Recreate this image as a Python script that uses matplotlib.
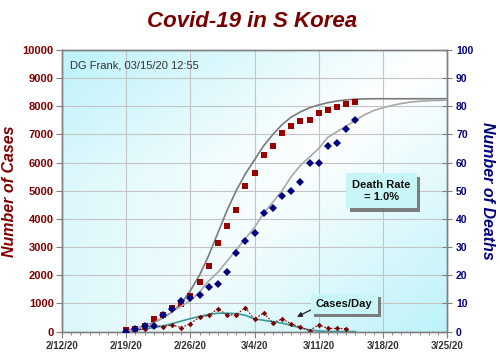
import numpy as np
import matplotlib.pyplot as plt
import matplotlib.dates as mdates
import matplotlib.patheffects as pe

plt.rcParams['font.family'] = ['Liberation Sans', 'DejaVu Sans']

# reported data, one value per day from 2/19/20
day0 = np.datetime64('2020-02-19')
cases = [51, 104, 204, 433, 602, 833, 977, 1261, 1766, 2337, 3150, 3736, 4335,
         5186, 5621, 6284, 6593, 7041, 7314, 7478, 7513, 7755, 7869, 7979, 8086, 8162]
deaths = [0, 1, 2, 2, 6, 8, 11, 12, 13, 16, 17, 21, 28, 32, 35, 42, 44, 48, 50,
          53, 60, 60, 66, 67, 72, 75]
new_cases = [20, 53, 100, 229, 169, 231, 144, 284, 505, 571, 813, 586, 599, 851,
             435, 663, 309, 448, 273, 164, 35, 242, 114, 110, 107]

# fitted curves, one value per day from 2/19/20
cases_fit = [50, 100, 200, 330, 480, 690, 1000, 1450, 2000, 2700, 3500, 4300, 5000,
             5600, 6100, 6600, 7000, 7350, 7620, 7800, 7950, 8050, 8130, 8190, 8230,
             8255, 8265, 8270, 8270, 8270, 8270, 8270, 8270, 8270, 8270, 8270]
deaths_fit = [0, 1, 2, 3, 5, 7, 9, 11, 14, 18, 21, 25, 29, 33, 37, 42, 46, 50, 55,
              59, 62, 65, 69, 71, 73, 75, 77, 78.5, 79.5, 80.3, 81, 81.5, 81.8, 82,
              82.1, 82.2]
new_fit = [20, 50, 90, 140, 200, 280, 370, 460, 540, 610, 650, 650, 640, 580, 450,
           400, 350, 300, 220, 130, 60, 20, 5, 0, 0, 0]

x_ticks = np.arange(np.datetime64('2020-02-12'), np.datetime64('2020-03-26'), 7)
x_labels = ['2/12/20', '2/19/20', '2/26/20', '3/4/20', '3/11/20', '3/18/20', '3/25/20']
case_ticks = list(range(0, 10001, 1000))
death_ticks = list(range(0, 101, 10))

def days(n):
    return day0 + np.arange(n)

dark_red = '#800000'
navy = '#000080'

fig = plt.figure(figsize=(5, 3.6), dpi=100)
ax = fig.add_axes([0.124, 0.079, 0.77, 0.782])
ax2 = ax.twinx()

# background: cyan corners, white along the diagonal
u, v = np.meshgrid(np.linspace(0, 1, 200), np.linspace(0, 1, 200))
t = np.maximum(np.abs(u - v), 0.55 * (1 - u) ** 2)[..., None]
cyan = np.array([0.74, 0.95, 0.98])
img = 1 - t * (1 - cyan)
ax.imshow(img, extent=(0, 1, 0, 1), transform=ax.transAxes, origin='lower',
          aspect='auto', zorder=0, interpolation='bilinear')

ax.grid(True, color='#c4c4c4', lw=0.8, zorder=1)
ax.set_axisbelow(True)

ax.plot(days(len(cases_fit)), cases_fit, color='#7a7a7a', lw=1.2, zorder=3)
ax.plot(days(len(new_fit)), new_fit, color='#3a9a9a', lw=1.2, zorder=3)
ax.plot(days(len(new_cases)), new_cases, color=dark_red, lw=0.8, ls=(0, (1.5, 1.5)),
        marker='D', ms=2.8, mew=0, zorder=4)
ax.plot(days(len(cases)), cases, ls='none', marker='s', ms=4.6, mew=0,
        color='#990000', zorder=5)

ax2.plot(days(len(deaths_fit)), deaths_fit, color='#a8a8a8', lw=1.2, zorder=3)
ax2.plot(days(len(deaths)), deaths, ls='none', marker='D', ms=3.6, mew=0,
         color=navy, zorder=5)

ax.set_xlim(np.datetime64('2020-02-12'), np.datetime64('2020-03-25'))
ax.set_ylim(0, 10000)
ax2.set_ylim(0, 100)

ax.set_xticks(x_ticks, labels=x_labels, fontweight='bold', color='#333333', fontsize=7)
ax.xaxis.set_minor_locator(mdates.DayLocator())
ax.set_yticks(case_ticks, labels=[str(c) for c in case_ticks], fontweight='bold',
              color=dark_red, fontsize=8)
ax2.set_yticks(death_ticks, labels=[str(d) for d in death_ticks], fontweight='bold',
               color=navy, fontsize=7.5)

ax.tick_params(axis='x', which='major', direction='out', length=4, color='#808080', pad=3)
ax.tick_params(axis='x', which='minor', direction='out', length=2, color='#808080')
ax.tick_params(axis='y', direction='out', length=4, color='#808080', pad=2)
ax2.tick_params(axis='y', direction='inout', length=7, color='#808080', pad=3)
for a in (ax, ax2):
    for s in a.spines.values():
        s.set_color('#808080')
        s.set_linewidth(1)

ax.set_ylabel('Number of Cases', fontsize=11.5, fontweight='bold', style='italic',
              color=dark_red)
ax.yaxis.set_label_coords(-0.118, 0.5)
ax2.set_ylabel('Number of Deaths', fontsize=11.5, fontweight='bold', style='italic',
               color=navy, rotation=270, va='center')
ax2.yaxis.set_label_coords(1.104, 0.5)

fig.text(0.505, 0.94, 'Covid-19 in S Korea', ha='center', va='center', fontsize=16,
         fontweight='bold', style='italic', color='#7a0000')

ax.text(0.02, 0.945, 'DG Frank, 03/15/20 12:55', transform=ax.transAxes,
        fontsize=8, color='#333333', va='center', ha='left', zorder=6)

shadow = [pe.withSimplePatchShadow(offset=(2.5, -2.5), shadow_rgbFace='#707070',
                                   alpha=0.9), pe.Normal()]
box = ax2.text(0.83, 0.5, 'Death Rate\n= 1.0%', transform=ax.transAxes,
               ha='center', va='center', fontsize=8, fontweight='bold',
               color='#111111', linespacing=1.3, zorder=7,
               bbox=dict(boxstyle='square,pad=0.55', fc='#c8f6f8', ec='none'))
box.get_bbox_patch().set_path_effects(shadow)

ann = ax2.annotate('Cases/Day', xy=(np.datetime64('2020-03-08T12'), 5.0),
                   xytext=(0.733, 0.098), textcoords='axes fraction',
                   ha='center', va='center', fontsize=8, fontweight='bold',
                   color='#111111', zorder=7,
                   bbox=dict(boxstyle='square,pad=0.45', fc='#c8f6f8', ec='none'),
                   arrowprops=dict(arrowstyle='-|>', color='#222222', lw=0.9,
                                   mutation_scale=7, shrinkA=0, shrinkB=1,
                                   relpos=(0.05, 0.3)))
ann.get_bbox_patch().set_path_effects(shadow)

fig.savefig('out.png', dpi=100)
